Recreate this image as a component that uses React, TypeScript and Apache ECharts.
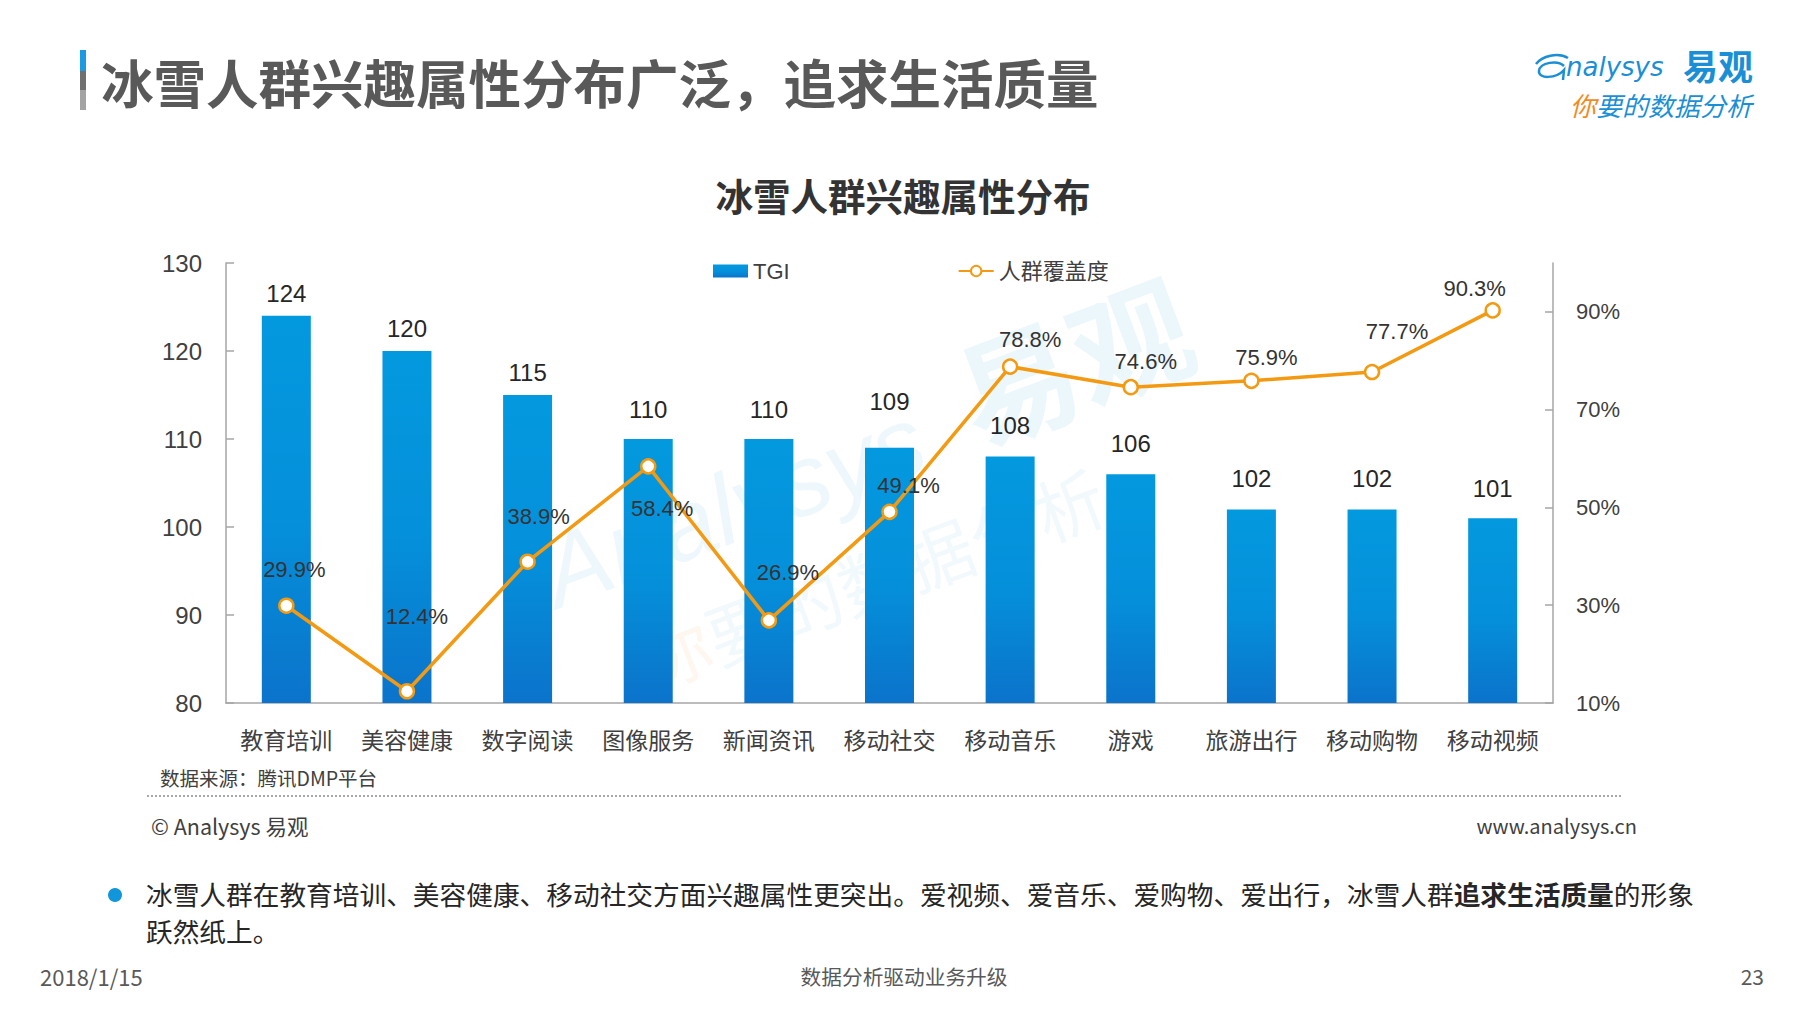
import React, { useEffect, useRef } from "react";
import * as echarts from "echarts";

// ---- data ----
const categories = ["教育培训", "美容健康", "数字阅读", "图像服务", "新闻资讯", "移动社交", "移动音乐", "游戏", "旅游出行", "移动购物", "移动视频"];
const tgiValues = [124, 120, 115, 110, 110, 109, 108, 106, 102, 102, 101];
const coverageValues = [29.9, 12.4, 38.9, 58.4, 26.9, 49.1, 78.8, 74.6, 75.9, 77.7, 90.3];
const rightAxisTicks = [10, 30, 50, 70, 90];
// label placement, as in the source slide
const tgiLabelDistances = [10, 11, 11, 18, 18, 34, 19, 19, 19, 19, 18];
const coverageLabelOffsets = [
  [8, -36], [10, -75], [11, -45], [14, 42], [19, -48], [19, -26],
  [20, -27], [15, -26], [15, -23], [25, -41], [-18, -22],
];

const pageTitle = "冰雪人群兴趣属性分布广泛，追求生活质量";
const chartTitle = "冰雪人群兴趣属性分布";
const sourceNote = "数据来源：腾讯DMP平台";

const FONT = "'Liberation Sans', 'Noto Sans CJK SC', sans-serif";
const CJK = "'Noto Sans CJK SC', 'Liberation Sans', sans-serif";
const BLUE = "#1296db";
const ORANGE = "#f39a12";

echarts.graphic.registerShape(
  "logoSwoosh",
  echarts.graphic.extendPath(
    "M0 10 C6 2 22 -2 32 4 M28 12 C22 6 4 8 3 17 C2 25 20 25 28 16 L27 26",
    {}
  )
);

export default function App() {
  const ref = useRef<HTMLDivElement>(null);

  useEffect(() => {
    if (!ref.current) return;
    const chart = echarts.init(ref.current, undefined, { renderer: "svg" });

    const barGradient = new echarts.graphic.LinearGradient(0, 0, 0, 1, [
      { offset: 0, color: "#0399df" },
      { offset: 0.55, color: "#058fda" },
      { offset: 1, color: "#0b73cb" },
    ]);

    const barData = tgiValues.map((v, i) => ({
      value: v,
      label: { distance: tgiLabelDistances[i] },
    }));

    const lineData = coverageValues.map((v, i) => ({
      value: v,
      label: { offset: coverageLabelOffsets[i] },
    }));

    const option: any = {
      animation: false,
      backgroundColor: "#ffffff",
      textStyle: { fontFamily: FONT },
      grid: { left: 226, right: 247, top: 263, bottom: 310, containLabel: false },
      legend: {
        left: 708,
        top: 255,
        itemWidth: 35,
        itemHeight: 13,
        itemGap: 168,
        textStyle: { fontSize: 22, color: "#404040", fontFamily: FONT },
        data: [
          { name: "TGI", icon: "rect" },
          { name: "人群覆盖度" },
        ],
      },
      xAxis: {
        type: "category",
        data: categories,
        axisLine: { lineStyle: { color: "#a6a6a6", width: 1.5 } },
        axisTick: { show: false },
        axisLabel: { fontSize: 23, color: "#404040", margin: 24, fontFamily: CJK, interval: 0 },
      },
      yAxis: [
        {
          type: "value",
          min: 80,
          max: 130,
          interval: 10,
          splitLine: { show: false },
          axisLine: { show: true, lineStyle: { color: "#a6a6a6", width: 1.5 } },
          axisTick: { show: true, inside: true, length: 8, lineStyle: { color: "#a6a6a6", width: 1.5 } },
          axisLabel: { fontSize: 24, color: "#404040", margin: 24 },
        },
        {
          type: "value",
          min: 10,
          max: 100,
          interval: 20,
          position: "right",
          splitLine: { show: false },
          axisLine: { show: true, lineStyle: { color: "#a6a6a6", width: 1.5 } },
          axisTick: {
            show: true,
            inside: true,
            length: 8,
            customValues: rightAxisTicks,
            lineStyle: { color: "#a6a6a6", width: 1.5 },
          },
          axisLabel: {
            fontSize: 22,
            color: "#404040",
            margin: 23,
            customValues: rightAxisTicks,
            formatter: (v: number) => (v > 95 ? "" : v + "%"),
          },
        },
      ],
      series: [
        {
          name: "TGI",
          type: "bar",
          data: barData,
          barWidth: 49,
          itemStyle: { color: barGradient },
          label: {
            show: true,
            position: "top",
            fontSize: 24,
            color: "#262626",
          },
          z: 2,
        },
        {
          name: "人群覆盖度",
          type: "line",
          yAxisIndex: 1,
          data: lineData,
          symbol: "circle",
          symbolSize: 14,
          lineStyle: { color: ORANGE, width: 3.5 },
          itemStyle: { color: "#ffffff", borderColor: ORANGE, borderWidth: 2.5 },
          label: {
            show: true,
            position: "inside",
            align: "center",
            verticalAlign: "middle",
            fontSize: 22,
            color: "#333333",
            formatter: (p: any) => p.value + "%",
          },
          z: 3,
        },
      ],
      graphic: [
        // faint watermark
        {
          type: "group",
          x: 830,
          y: 480,
          rotation: 0.36,
          z: -10,
          children: [
            {
              type: "text",
              x: -300,
              y: -60,
              style: {
                text: "Analysys",
                fontSize: 100,
                fontStyle: "italic",
                fontFamily: FONT,
                fill: "rgba(18,150,219,0.07)",
              },
            },
            {
              type: "text",
              x: 150,
              y: -90,
              style: {
                text: "易观",
                fontSize: 120,
                fontWeight: "bold",
                fontFamily: CJK,
                fill: "rgba(18,150,219,0.08)",
              },
            },
            {
              type: "text",
              x: -240,
              y: 70,
              style: {
                text: "{o|你}要的数据分析",
                fontSize: 70,
                fontFamily: CJK,
                fill: "rgba(18,150,219,0.06)",
                rich: { o: { fontSize: 70, fontFamily: CJK, fill: "rgba(240,140,30,0.07)" } },
              },
            },
          ],
        },
        // title accent bar
        { type: "rect", shape: { x: 80, y: 50, width: 6, height: 21 }, style: { fill: "#1a9ae0" } },
        { type: "rect", shape: { x: 80, y: 71, width: 6, height: 19 }, style: { fill: "#707070" } },
        { type: "rect", shape: { x: 80, y: 90, width: 6, height: 20 }, style: { fill: "#a3a3a3" } },
        {
          type: "text",
          x: 101,
          y: 81,
          style: {
            text: pageTitle,
            fontSize: 52.5,
            fontWeight: "bold",
            fontFamily: CJK,
            fill: "#595959",
            verticalAlign: "middle",
          },
        },
        // logo
        {
          type: "logoSwoosh",
          x: 1536,
          y: 54,
          style: { stroke: "#1a8fd6", lineWidth: 2.5, fill: "none" },
        },
        {
          type: "text",
          x: 1566,
          y: 67,
          style: {
            text: "nalysys",
            fontSize: 26,
            lineHeight: 26,
            fontStyle: "italic",
            fontFamily: "'DejaVu Sans', sans-serif",
            fill: "#1a8fd6",
            verticalAlign: "middle",
          },
        },
        {
          type: "text",
          x: 1683,
          y: 64,
          style: {
            text: "易观",
            fontSize: 35,
            lineHeight: 35,
            fontWeight: "bold",
            fontFamily: CJK,
            fill: "#1a8fd6",
            verticalAlign: "middle",
          },
        },
        {
          type: "text",
          x: 1570,
          y: 104,
          style: {
            text: "{o|你}{b|要的数据分析}",
            verticalAlign: "middle",
            rich: {
              o: { fontSize: 26, lineHeight: 26, fontStyle: "italic", fontFamily: CJK, fill: "#f08c1e" },
              b: { fontSize: 26, lineHeight: 26, fontStyle: "italic", fontFamily: CJK, fill: "#1a8fd6" },
            },
          },
        },
        // chart title
        {
          type: "text",
          x: 903,
          y: 194,
          style: {
            text: chartTitle,
            fontSize: 37.5,
            fontWeight: "bold",
            fontFamily: CJK,
            fill: "#333333",
            align: "center",
            verticalAlign: "middle",
          },
        },
        // source note
        {
          type: "text",
          x: 160,
          y: 777,
          style: { text: sourceNote, fontSize: 19.5, fontFamily: CJK, fill: "#404040", verticalAlign: "middle" },
        },
        {
          type: "line",
          shape: { x1: 147, y1: 796, x2: 1621, y2: 796 },
          style: { stroke: "#8c8c8c", lineWidth: 1.5, lineDash: [2, 2] },
        },
        {
          type: "text",
          x: 151,
          y: 825,
          style: { text: "© Analysys 易观", fontSize: 21.5, fontFamily: CJK, fill: "#404040", verticalAlign: "middle" },
        },
        {
          type: "text",
          x: 1637,
          y: 825,
          style: {
            text: "www.analysys.cn",
            fontSize: 20,
            fontFamily: CJK,
            fill: "#404040",
            align: "right",
            verticalAlign: "middle",
          },
        },
        // bullet text
        { type: "circle", shape: { cx: 115, cy: 895, r: 7 }, style: { fill: BLUE } },
        {
          type: "text",
          x: 146,
          y: 893,
          style: {
            text: "冰雪人群在教育培训、美容健康、移动社交方面兴趣属性更突出。爱视频、爱音乐、爱购物、爱出行，冰雪人群{b|追求生活质量}的形象",
            fontSize: 26.7,
            fontFamily: CJK,
            fill: "#262626",
            verticalAlign: "middle",
            rich: { b: { fontSize: 26.7, fontWeight: "bold", fontFamily: CJK, fill: "#262626" } },
          },
        },
        {
          type: "text",
          x: 146,
          y: 930,
          style: { text: "跃然纸上。", fontSize: 26.7, fontFamily: CJK, fill: "#262626", verticalAlign: "middle" },
        },
        // footer
        {
          type: "text",
          x: 40,
          y: 976,
          style: { text: "2018/1/15", fontSize: 22, fontFamily: CJK, fill: "#595959", verticalAlign: "middle" },
        },
        {
          type: "text",
          x: 904,
          y: 976,
          style: {
            text: "数据分析驱动业务升级",
            fontSize: 20.7,
            fontFamily: CJK,
            fill: "#595959",
            align: "center",
            verticalAlign: "middle",
          },
        },
        {
          type: "text",
          x: 1764,
          y: 976,
          style: { text: "23", fontSize: 21, fontFamily: CJK, fill: "#595959", align: "right", verticalAlign: "middle" },
        },
      ],
    };

    chart.setOption(option);
    return () => chart.dispose();
  }, []);

  return (
    <div
      ref={ref}
      style={{ position: "absolute", left: 0, top: 0, width: 1800, height: 1013, background: "#fff" }}
    />
  );
}
